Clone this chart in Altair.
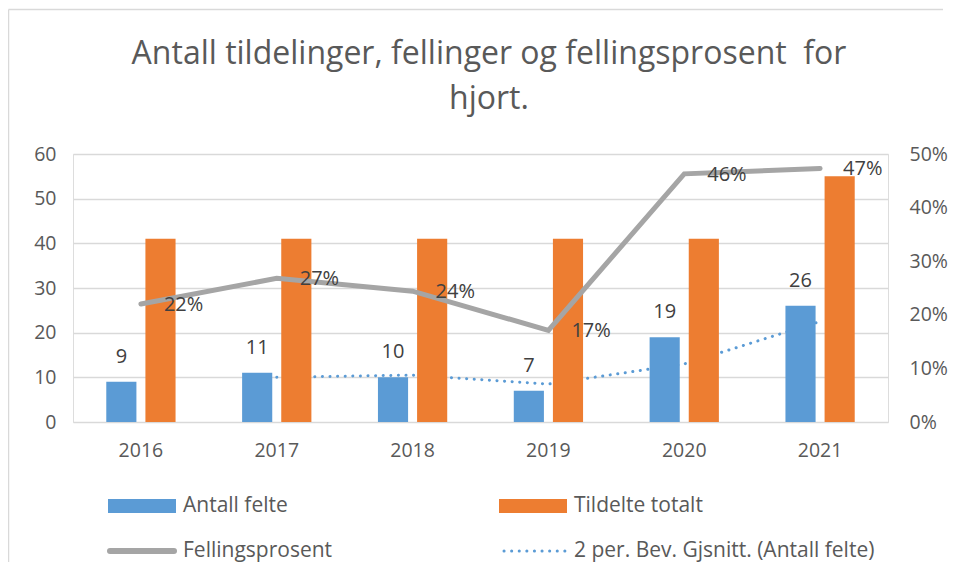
import altair as alt
import pandas as pd

years = ["2016", "2017", "2018", "2019", "2020", "2021"]
antall_felte = [9, 11, 10, 7, 19, 26]
tildelte_totalt = [41, 41, 41, 41, 41, 55]
fellingsprosent = [0.22, 0.268, 0.244, 0.171, 0.463, 0.473]
fellingsprosent_labels = ["22%", "27%", "24%", "17%", "46%", "47%"]
snitt_years = ["2017", "2018", "2019", "2020", "2021"]
snitt_values = [10, 10.5, 8.5, 13, 22.5]
title_lines = ["Antall tildelinger, fellinger og fellingsprosent \u00a0for", "hjort."]

series = ["Antall felte", "Tildelte totalt"]
colors = ["#5B9BD5", "#ED7D31"]
FONT = "Open Sans"
TXT = "#595959"
FS_AX = 19.5
FS_LBL = 20
FS_LEG = 21

bars_df = pd.DataFrame(
    [{"år": y, "serie": series[0], "verdi": v} for y, v in zip(years, antall_felte)]
    + [{"år": y, "serie": series[1], "verdi": v} for y, v in zip(years, tildelte_totalt)]
)
felte_df = pd.DataFrame({"år": years, "serie": series[0], "verdi": antall_felte})
pct_df = pd.DataFrame({"år": years, "pct": fellingsprosent, "lbl": fellingsprosent_labels})
ma_df = pd.DataFrame({"år": snitt_years, "snitt": snitt_values})

xscale = alt.Scale(domain=years, paddingInner=0.49, paddingOuter=0.245)
xaxis = alt.Axis(title=None, labelFont=FONT, labelFontSize=FS_AX, labelColor=TXT, labelAngle=0,
                 domain=False, ticks=False, grid=False, labelPadding=19)
X = alt.X("år:N", scale=xscale, axis=xaxis)
yleft_scale = alt.Scale(domain=[0, 60], nice=False)
yleft_axis = alt.Axis(title=None, values=[0, 10, 20, 30, 40, 50, 60], labelFont=FONT,
                      labelFontSize=FS_AX, labelColor=TXT, domain=False, ticks=False,
                      grid=True, gridColor="#D9D9D9", gridWidth=1.3, labelPadding=17)
xoff = alt.XOffset("serie:N", scale=alt.Scale(domain=series, paddingInner=0.23, paddingOuter=0))

ma = alt.Chart(ma_df).mark_line(color="#5B9BD5", strokeWidth=3, strokeDash=[0.1, 7.5],
                                strokeCap="round").encode(
    x=X, y=alt.Y("snitt:Q", scale=yleft_scale, axis=yleft_axis))

bars = alt.Chart(bars_df).mark_bar().encode(
    x=X, xOffset=xoff,
    y=alt.Y("verdi:Q", scale=yleft_scale, axis=yleft_axis),
    color=alt.Color("serie:N", scale=alt.Scale(domain=series, range=colors), legend=None))

bar_lbl = alt.Chart(felte_df).mark_text(font=FONT, fontSize=FS_LBL, color="#404040",
                                         baseline="alphabetic", dy=-19).encode(
    x=X, xOffset=xoff,
    y=alt.Y("verdi:Q", scale=yleft_scale, axis=yleft_axis),
    text="verdi:Q")

one = alt.Data(values=[{}])
def leg_rect(x0, x1, col):
    return alt.Chart(one).mark_rect(color=col).encode(
        x=alt.value(x0), x2=alt.value(x1), y=alt.value(345), y2=alt.value(359))
def leg_text(x0, yv, t):
    return alt.Chart(one).mark_text(text=t, font=FONT, fontSize=FS_LEG, color=TXT,
                                    align="left", baseline="middle").encode(
        x=alt.value(x0), y=alt.value(yv))

title_marks = [
    alt.Chart(one).mark_text(text=title_lines[0], font=FONT, fontSize=32, color=TXT,
                             align="center", baseline="alphabetic").encode(
        x=alt.value(416), y=alt.value(-90)),
    alt.Chart(one).mark_text(text=title_lines[1], font=FONT, fontSize=32, color=TXT,
                             align="center", baseline="alphabetic").encode(
        x=alt.value(416), y=alt.value(-45)),
]

leg = [
    leg_rect(35, 103, colors[0]), leg_text(110, 352, "Antall felte"),
    leg_rect(426, 494, colors[1]), leg_text(501, 352, "Tildelte totalt"),
    alt.Chart(one).mark_rule(color="#A5A5A5", strokeWidth=6, strokeCap="round").encode(
        x=alt.value(37), x2=alt.value(101), y=alt.value(397)),
    leg_text(110, 397, "Fellingsprosent"),
    alt.Chart(one).mark_rule(color="#5B9BD5", strokeWidth=3, strokeDash=[0.1, 7.5],
                             strokeCap="round").encode(
        x=alt.value(431), x2=alt.value(494), y=alt.value(397)),
    leg_text(501, 397, "2 per. Bev. Gjsnitt. (Antall felte)"),
    alt.Chart(one).mark_rule(color="#D9D9D9", strokeWidth=1.5).encode(
        x=alt.value(-64.5), y=alt.value(-144.5), y2=alt.value(408)),
    alt.Chart(one).mark_rule(color="#D9D9D9", strokeWidth=1.5).encode(
        x=alt.value(-64.5), x2=alt.value(870), y=alt.value(-144.5)),
]

left = alt.layer(ma, bars, bar_lbl, *leg, *title_marks)

yright_scale = alt.Scale(domain=[0, 0.5], nice=False)
yright_axis = alt.Axis(title=None, orient="right", format=".0%", values=[0, 0.1, 0.2, 0.3, 0.4, 0.5],
                       labelFont=FONT, labelFontSize=FS_AX, labelColor=TXT, domain=False,
                       ticks=False, grid=False, labelPadding=21)

pline = alt.Chart(pct_df).mark_line(color="#A5A5A5", strokeWidth=5, strokeCap="round",
                                    strokeJoin="miter").encode(
    x=X, y=alt.Y("pct:Q", scale=yright_scale, axis=yright_axis))
plbl = alt.Chart(pct_df).mark_text(font=FONT, fontSize=FS_LBL, color="#404040", align="left",
                                    baseline="middle", dx=23, dy=1).encode(
    x=X, y=alt.Y("pct:Q", scale=yright_scale, axis=yright_axis), text="lbl:N")
right = alt.layer(pline, plbl)

chart = alt.layer(left, right).resolve_scale(y="independent").properties(
    width=815, height=268,
    padding={"left": 65, "top": 146, "right": 63, "bottom": 148},
    autosize=alt.AutoSizeParams(type="none"),
).configure_view(stroke=None).configure(background="white")

chart.save("out.html", embed_options={"renderer": "svg", "actions": False})
